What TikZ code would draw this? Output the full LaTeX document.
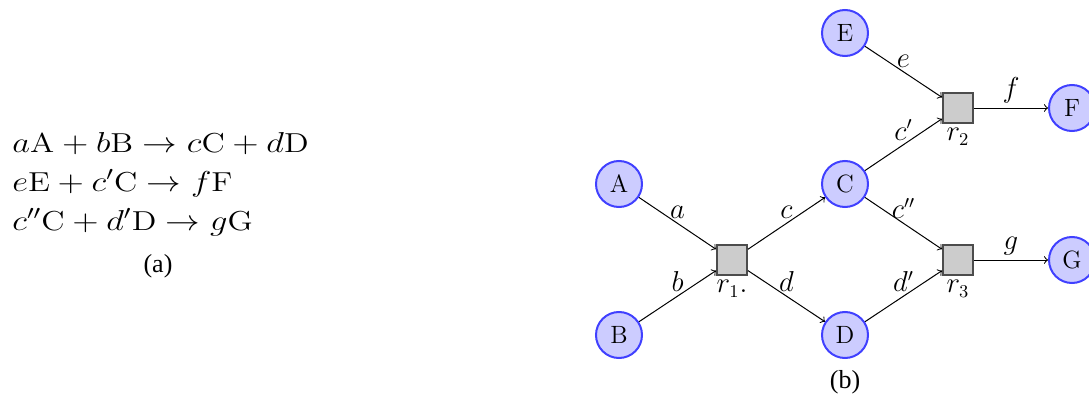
\documentclass[tikz,border=0pt]{standalone}
\usepackage{fontspec}
\newfontfamily\capfont{Liberation Serif}
\begin{document}
\begin{tikzpicture}[x=0.5pt,y=-0.5pt,
  every node/.style={font=\fontsize{13.5}{16}\selectfont},
  species/.style={circle, minimum size=23pt, inner sep=0pt, draw=blue!75, fill=blue!20, line width=1pt, font=\fontsize{12.5}{15}\selectfont},
  reaction/.style={rectangle, minimum size=15pt, inner sep=0pt, draw=black!70, fill=black!20, line width=1pt},
  arr/.style={->, line width=0.5pt},
  lbl/.style={above, midway, inner sep=2pt},
  eqn/.style={anchor=base west, inner sep=0pt, xscale=1.2, font=\fontsize{13.7}{16}\selectfont},
  capt/.style={font=\capfont\fontsize{13}{15}\selectfont}]
\useasboundingbox (0,0) rectangle (1089,396);
% left part: equations
\node[eqn] (eq1) at (12,152) {$a\mathrm{A}+b\mathrm{B}\to c\mathrm{C}+d\mathrm{D}$};
\node[eqn] (eq2) at (12,191) {$e\mathrm{E}+c'\mathrm{C}\to f\mathrm{F}$};
\node[eqn] (eq3) at (12,230) {$c''\mathrm{C}+d'\mathrm{D}\to g\mathrm{G}$};
\node[capt] (capa) at (158,266) {(a)};
% right part: network
\node[species] (A) at (619,184) {A};
\node[species] (B) at (619,335) {B};
\node[reaction, label={[inner sep=2pt]below:$r_1.$}] (r1) at (732,260) {};
\node[species] (C) at (845,184) {C};
\node[species] (D) at (845,335) {D};
\node[species] (E) at (845,33) {E};
\node[reaction, label={[inner sep=2pt]below:$r_2$}] (r2) at (958,108) {};
\node[species] (F) at (1072,108) {F};
\node[reaction, label={[inner sep=2pt]below:$r_3$}] (r3) at (958,260) {};
\node[species] (G) at (1072,260) {G};
\node[capt] (capb) at (845,382) {(b)};
\draw[arr] (A) -- node[lbl] {$a$} (r1);
\draw[arr] (B) -- node[lbl] {$b$} (r1);
\draw[arr] (r1) -- node[lbl] {$c$} (C);
\draw[arr] (r1) -- node[lbl] {$d$} (D);
\draw[arr] (E) -- node[lbl] {$e$} (r2);
\draw[arr] (C) -- node[lbl] {$c'$} (r2);
\draw[arr] (r2) -- node[lbl] {$f$} (F);
\draw[arr] (C) -- node[lbl] {$c''$} (r3);
\draw[arr] (D) -- node[lbl] {$d'$} (r3);
\draw[arr] (r3) -- node[lbl] {$g$} (G);
\end{tikzpicture}
\end{document}
